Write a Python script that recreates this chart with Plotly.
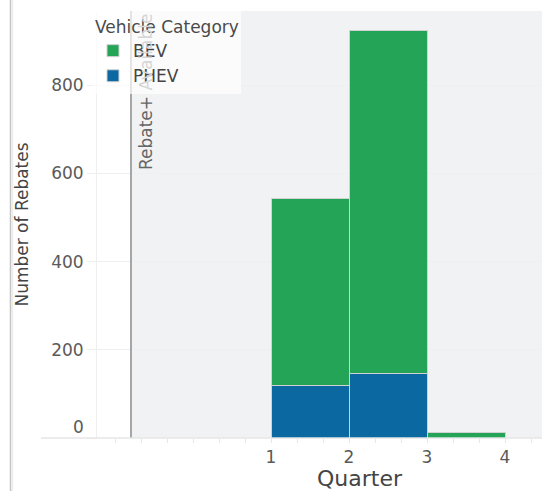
import plotly.graph_objects as go

# Rebates per quarter, split by vehicle category
quarters = [1, 2, 3]
bev_rebates = [424, 777, 12]
phev_rebates = [118, 146, 0]

x_tick_values = [1, 2, 3, 4]
y_tick_values = [0, 200, 400, 600, 800]

# Quarter position at which Rebate+ became available
REBATE_PLUS_START = -0.795
X_RANGE = [-1.231, 4.474]
Y_RANGE = [0, 968]

BEV_COLOR = "#23a457"
PHEV_COLOR = "#0c68a0"
FONT = "DejaVu Sans"
TICK_COLOR = "#5a5a5a"

fig = go.Figure()

# PHEV first so it sits at the bottom of each stack
fig.add_trace(go.Bar(
    x=quarters, y=phev_rebates, name="PHEV",
    offset=0, width=1,
    marker=dict(color=PHEV_COLOR, line=dict(color="#d2d2d2", width=1)),
))
fig.add_trace(go.Bar(
    x=quarters, y=bev_rebates, name="BEV",
    offset=0, width=1,
    marker=dict(color=BEV_COLOR, line=dict(color="#d2d2d2", width=1)),
))

# Shaded period after Rebate+ availability
fig.add_shape(type="rect", xref="x", yref="paper",
              x0=REBATE_PLUS_START, x1=X_RANGE[1], y0=0, y1=1,
              fillcolor="#f1f2f4", line=dict(width=0), layer="below")
fig.add_shape(type="line", xref="x", yref="paper",
              x0=REBATE_PLUS_START, x1=REBATE_PLUS_START, y0=0, y1=1,
              line=dict(color="#a6a6a6", width=2), layer="above")
fig.add_annotation(
    text="Rebate+ <span style='color:#d6d6d6'>Available</span>",
    x=REBATE_PLUS_START, xref="x", y=1, yref="paper",
    xanchor="left", yanchor="top", textangle=-90, showarrow=False,
    xshift=3, yshift=-1,
    font=dict(family=FONT, size=17, color="#666666"),
)

# Baseline running left past the axis, and the card edge
fig.add_shape(type="line", xref="paper", yref="paper",
              x0=-0.126, x1=1, y0=0, y1=0,
              line=dict(color="#e6e6e6", width=1.5))
fig.add_shape(type="line", xref="paper", yref="paper",
              x0=-0.1944, x1=-0.1944, y0=-0.2, y1=1.1,
              line=dict(color="#c4c4c4", width=1.5))
fig.add_shape(type="line", xref="paper", yref="paper",
              x0=-0.1905, x1=-0.1905, y0=-0.2, y1=1.1,
              line=dict(color="#ededed", width=2))

# The zero label sits just above the baseline
y_tick_text = [str(v) if v != 0 else "" for v in y_tick_values]
fig.add_annotation(
    text=str(y_tick_values[0]), xref="paper", y=y_tick_values[0], yref="y",
    x=0, xanchor="right", yanchor="middle", xshift=-11, yshift=11,
    showarrow=False, font=dict(family=FONT, size=17, color=TICK_COLOR),
)

# x-axis title
fig.add_annotation(
    text="Quarter", xref="paper", yref="paper",
    x=0.591, y=-0.0937, xanchor="center", yanchor="middle",
    showarrow=False, font=dict(family=FONT, size=22, color="#444444"),
)

fig.update_layout(
    width=542, height=491,
    margin=dict(l=97, r=0, t=11, b=53, pad=0),
    barmode="stack",
    paper_bgcolor="white",
    plot_bgcolor="white",
    font=dict(family=FONT, size=17, color="#555555"),
    showlegend=True,
    legend=dict(
        title=dict(text="Vehicle Category", font=dict(size=17, color="#4a4a4a")),
        x=-0.009, y=1, xanchor="left", yanchor="top",
        bgcolor="rgba(255,255,255,0.7)",
        traceorder="reversed",
        font=dict(size=17, color="#444444"),
    ),
    xaxis=dict(
        range=X_RANGE, tickvals=x_tick_values,
        showgrid=False, zeroline=False,
        ticks="outside", ticklen=4, tickcolor="#e6e6e6",
        minor=dict(dtick=1 / 3, tick0=1, ticks="outside", ticklen=4,
                   tickcolor="#e6e6e6", showgrid=False),
        tickfont=dict(size=17, color=TICK_COLOR),
    ),
    yaxis=dict(
        range=Y_RANGE, tickvals=y_tick_values, ticktext=y_tick_text,
        gridcolor="#efefef", zeroline=False,
        showline=True, linecolor="#efefef",
        ticks="outside", ticklen=9, tickcolor="#efefef",
        tickfont=dict(size=17, color=TICK_COLOR),
        title=dict(text="Number of Rebates", standoff=18,
                   font=dict(size=17, color="#444444")),
    ),
)

fig.write_html("out.html")
